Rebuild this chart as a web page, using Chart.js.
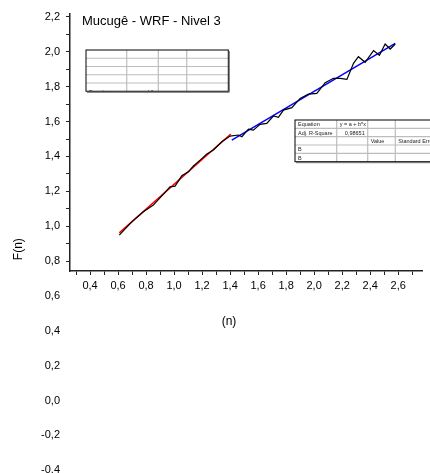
<!DOCTYPE html>
<html>
<head>
<meta charset="utf-8">
<script src="https://cdn.jsdelivr.net/npm/chart.js@4/dist/chart.umd.min.js"></script>
<style>
html, body { margin: 0; padding: 0; background: #fff; }
</style>
</head>
<body>
<canvas id="mychart" width="430" height="473"></canvas>
<script>
// fluctuation function
const nBlack = [0.609, 0.698, 0.781, 0.852, 0.924, 0.971, 1.007, 1.055, 1.102, 1.138,
    1.186, 1.234, 1.281, 1.341, 1.400, 1.459, 1.484, 1.531, 1.566, 1.614,
    1.662, 1.709, 1.745, 1.781, 1.841, 1.900, 1.959, 2.019, 2.079, 2.138,
    2.186, 2.234, 2.281, 2.316, 2.364, 2.424, 2.466, 2.507, 2.543, 2.579];
const fBlack = [0.949, 1.025, 1.083, 1.121, 1.184, 1.226, 1.230, 1.289, 1.312, 1.345,
    1.379, 1.414, 1.437, 1.484, 1.517, 1.523, 1.513, 1.557, 1.551, 1.584,
    1.590, 1.632, 1.624, 1.666, 1.680, 1.733, 1.758, 1.762, 1.823, 1.848,
    1.848, 1.842, 1.934, 1.972, 1.940, 2.007, 1.980, 2.045, 2.016, 2.045];
// linear fits
const nRed = [0.609, 1.405];
const fRed = [0.962, 1.529];
const nBlue = [1.412, 2.579];
const fBlue = [1.494, 2.049];

// tick labels that hang below the x axis
const yTicksBelow = [-0.4, -0.2, 0, 0.2, 0.4, 0.6];

const chartTitle = 'Mucugê - WRF - Nivel 3';
const xTitle = '(n)';
const yTitle = 'F(n)';
const table1Rows = [['', '', '', ''], ['', '', '', ''], ['', '', '', ''], ['', '', '', ''], ['Equation', 'y = a + b*x', '', '']];
const table2Rows = [['Equation', 'y = a + b*x', '', ''], ['Adj. R-Square', '0,98651', '', ''], ['', '', 'Value', 'Standard Error'], ['B', '', '', ''], ['B', '', '', '']];

const FONT = "'Liberation Sans', Arial, sans-serif";
const pts = (xs, ys) => xs.map((x, i) => ({ x: x, y: ys[i] }));
const fmt = v => v.toFixed(1).replace('.', ',');
const isMajor = v => Math.abs(Math.round(v * 10)) % 2 === 0;

function drawTable(ctx, x, y, cols, rowH, rows, clipText) {
    const w = cols.reduce((a, b) => a + b, 0);
    const h = rowH * rows.length;
    ctx.save();
    ctx.fillStyle = '#fff';
    ctx.fillRect(x, y, w, h);
    ctx.strokeStyle = '#bdbdbd';
    ctx.lineWidth = 1.2;
    for (let r = 1; r < rows.length; r++) {
        ctx.beginPath();
        ctx.moveTo(x, y + r * rowH);
        ctx.lineTo(x + w, y + r * rowH);
        ctx.stroke();
    }
    let cx = x;
    for (let c = 0; c < cols.length - 1; c++) {
        cx += cols[c];
        ctx.beginPath();
        ctx.moveTo(cx, y);
        ctx.lineTo(cx, y + h);
        ctx.stroke();
    }
    ctx.beginPath();
    ctx.rect(x, y, w, h);
    ctx.clip();
    ctx.font = '5.5px ' + FONT;
    ctx.fillStyle = '#222';
    rows.forEach((row, r) => {
        let tx = x;
        row.forEach((txt, c) => {
            if (txt) {
                const ty = clipText ? y + (r + 1) * rowH + 3 : y + r * rowH + rowH / 2 + 2;
                if (c === 1 && r === 1) {
                    ctx.textAlign = 'right';
                    ctx.fillText(txt, tx + cols[c] - 3, ty);
                } else {
                    ctx.textAlign = 'left';
                    ctx.fillText(txt, tx + 3, ty);
                }
            }
            tx += cols[c];
        });
    });
    ctx.restore();
    ctx.save();
    ctx.strokeStyle = '#000';
    ctx.lineWidth = 1;
    ctx.strokeRect(x, y, w, h);
    ctx.strokeStyle = '#666';
    ctx.beginPath();
    ctx.moveTo(x + 1, y + h + 1);
    ctx.lineTo(x + w + 1, y + h + 1);
    ctx.lineTo(x + w + 1, y + 1);
    ctx.stroke();
    ctx.restore();
}

const decorations = {
    id: 'decorations',
    afterDraw(chart) {
        const ctx = chart.ctx;
        const area = chart.chartArea;
        const ys = chart.scales.y;
        ctx.save();
        ctx.fillStyle = '#000';
        ctx.textBaseline = 'middle';
        ctx.font = '13px ' + FONT;
        ctx.textAlign = 'left';
        ctx.fillText(chartTitle, area.left + 12, area.top + 7);

        ctx.font = '12px ' + FONT;
        ctx.textAlign = 'center';
        ctx.fillText(xTitle, area.left + 159, area.bottom + 51);

        const midY = (ys.getPixelForValue(yTicksBelow[0]) + ys.top) / 2;
        ctx.translate(19, midY + 7);
        ctx.rotate(-Math.PI / 2);
        ctx.fillText(yTitle, 0, 0);
        ctx.restore();

        drawTable(ctx, area.left + 16, area.top + 36, [40.7, 31.6, 28.4, 41.6], 8.25, table1Rows, true);
        drawTable(ctx, area.left + 225, area.top + 106, [41.7, 31, 27.6, 60], 8.34, table2Rows, false);
    }
};

new Chart(document.getElementById('mychart'), {
    type: 'line',
    data: {
        datasets: [{
            label: 'F(n)',
            data: pts(nBlack, fBlack),
            borderColor: '#000',
            borderWidth: 1.2,
            pointRadius: 0,
            tension: 0,
        }, {
            label: 'fit 1',
            data: pts(nRed, fRed),
            borderColor: '#ff0000',
            borderWidth: 1.5,
            pointRadius: 0,
        }, {
            label: 'fit 2',
            data: pts(nBlue, fBlue),
            borderColor: '#0000ff',
            borderWidth: 1.5,
            pointRadius: 0,
        }],
    },
    options: {
        responsive: false,
        animation: false,
        layout: { padding: { left: 0, top: 14, right: 8, bottom: 0 } },
        plugins: {
            legend: { display: false },
            tooltip: { enabled: false },
        },
        scales: {
            x: {
                type: 'linear',
                min: 0.257,
                max: 2.77,
                afterFit: s => { s.height = 202; },
                border: { color: '#222', width: 1.5 },
                grid: { drawOnChartArea: false, tickLength: 4, tickColor: '#222' },
                ticks: {
                    stepSize: 0.1,
                    includeBounds: false,
                    autoSkip: false,
                    maxRotation: 0,
                    padding: 4,
                    color: '#000',
                    font: { family: FONT, size: 11 },
                    callback: v => isMajor(v) ? fmt(v) : '',
                },
            },
            y: {
                min: 0.743,
                max: 2.217,
                afterFit: s => { s.width = 70; },
                afterBuildTicks: s => {
                    s.ticks = yTicksBelow.map(v => ({ value: v })).concat(s.ticks);
                },
                border: { color: '#222', width: 1.5 },
                grid: {
                    drawOnChartArea: false,
                    tickLength: 4,
                    tickColor: c => c.tick && c.tick.value < c.scale.min ? 'rgba(0,0,0,0)' : '#222',
                },
                ticks: {
                    stepSize: 0.1,
                    includeBounds: false,
                    autoSkip: false,
                    padding: 6,
                    color: '#000',
                    font: { family: FONT, size: 11 },
                    callback: v => isMajor(v) ? fmt(v) : '',
                },
            },
        },
    },
    plugins: [decorations],
});
</script>
</body>
</html>
